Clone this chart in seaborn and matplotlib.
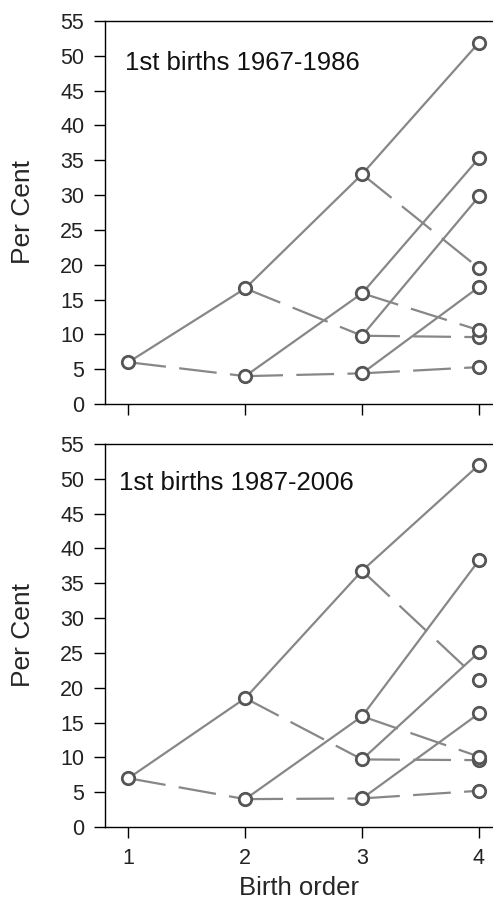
import numpy as np
import pandas as pd
import matplotlib
matplotlib.use("Agg")
import matplotlib.pyplot as plt
import seaborn as sns

# birth order on the x axis
birth_order = [1, 2, 3, 4]

# values at each birth order, as a binary tree:
# child 2i is reached by a solid line, child 2i+1 by a dashed line
top_title = "1st births 1967-1986"
top_b1 = [6.0]
top_b2 = [16.6, 4.0]
top_b3 = [33.0, 9.8, 15.9, 4.4]
top_b4 = [51.9, 19.5, 29.8, 9.6, 35.3, 10.6, 16.8, 5.3]

bot_title = "1st births 1987-2006"
bot_b1 = [7.0]
bot_b2 = [18.5, 4.0]
bot_b3 = [36.8, 9.7, 15.9, 4.1]
bot_b4 = [52.0, 21.1, 25.1, 9.6, 38.3, 10.1, 16.3, 5.2]

y_ticks = list(range(0, 56, 5))


def tree_frames(levels):
    segs = []
    pts = []
    for k, vals in enumerate(levels):
        for i, v in enumerate(vals):
            pts.append({"x": birth_order[k], "y": v})
        if k == 0:
            continue
        parents = levels[k - 1]
        for i, v in enumerate(vals):
            sid = f"{k}-{i}"
            kind = "solid" if i % 2 == 0 else "dashed"
            segs.append({"seg": sid, "kind": kind, "x": birth_order[k - 1], "y": parents[i // 2]})
            segs.append({"seg": sid, "kind": kind, "x": birth_order[k], "y": v})
    return pd.DataFrame(segs), pd.DataFrame(pts)


sns.set_style("ticks")
plt.rcParams["font.family"] = ["Liberation Sans", "DejaVu Sans"]

fig = plt.figure(figsize=(4.93, 9.05), dpi=100)
ax1 = fig.add_axes([0.213, 0.5536, 0.787, 0.4232])
ax2 = fig.add_axes([0.213, 0.0862, 0.787, 0.4232])

line_col = "#878787"
mark_col = "#555555"

panels = [
    (ax1, [top_b1, top_b2, top_b3, top_b4], top_title, 0.052, 0.872),
    (ax2, [bot_b1, bot_b2, bot_b3, bot_b4], bot_title, 0.037, 0.880),
]

for ax, levels, title, tx, ty in panels:
    segs, pts = tree_frames(levels)
    sns.lineplot(data=segs, x="x", y="y", units="seg", estimator=None,
                 style="kind", dashes={"solid": "", "dashed": (17, 6)},
                 color=line_col, linewidth=1.6, legend=False, ax=ax, zorder=2)
    sns.scatterplot(data=pts, x="x", y="y", marker="o", s=80,
                    facecolor="white", edgecolor=mark_col, linewidth=2.0,
                    legend=False, ax=ax, zorder=3)
    ax.text(tx, ty, title, transform=ax.transAxes, fontsize=18.5,
            ha="left", va="baseline", color="#111111")
    ax.set_xlim(0.8, 4.12)
    ax.set_ylim(0, 55)
    ax.set_yticks(y_ticks)
    ax.set_xticks(birth_order)
    ax.set_ylabel("Per Cent", fontsize=19, labelpad=18)
    ax.set_xlabel("")
    ax.spines["right"].set_visible(False)
    for s in ["left", "bottom", "top"]:
        ax.spines[s].set_color("black")
        ax.spines[s].set_linewidth(1.0)
    ax.tick_params(axis="both", direction="out", length=8, width=1.0,
                   color="black", labelsize=15.5, pad=7, labelcolor="#222222")

ax1.set_xticklabels([])
ax2.set_xlabel("Birth order", fontsize=18.5, labelpad=5)

fig.savefig("out.png", dpi=100)
